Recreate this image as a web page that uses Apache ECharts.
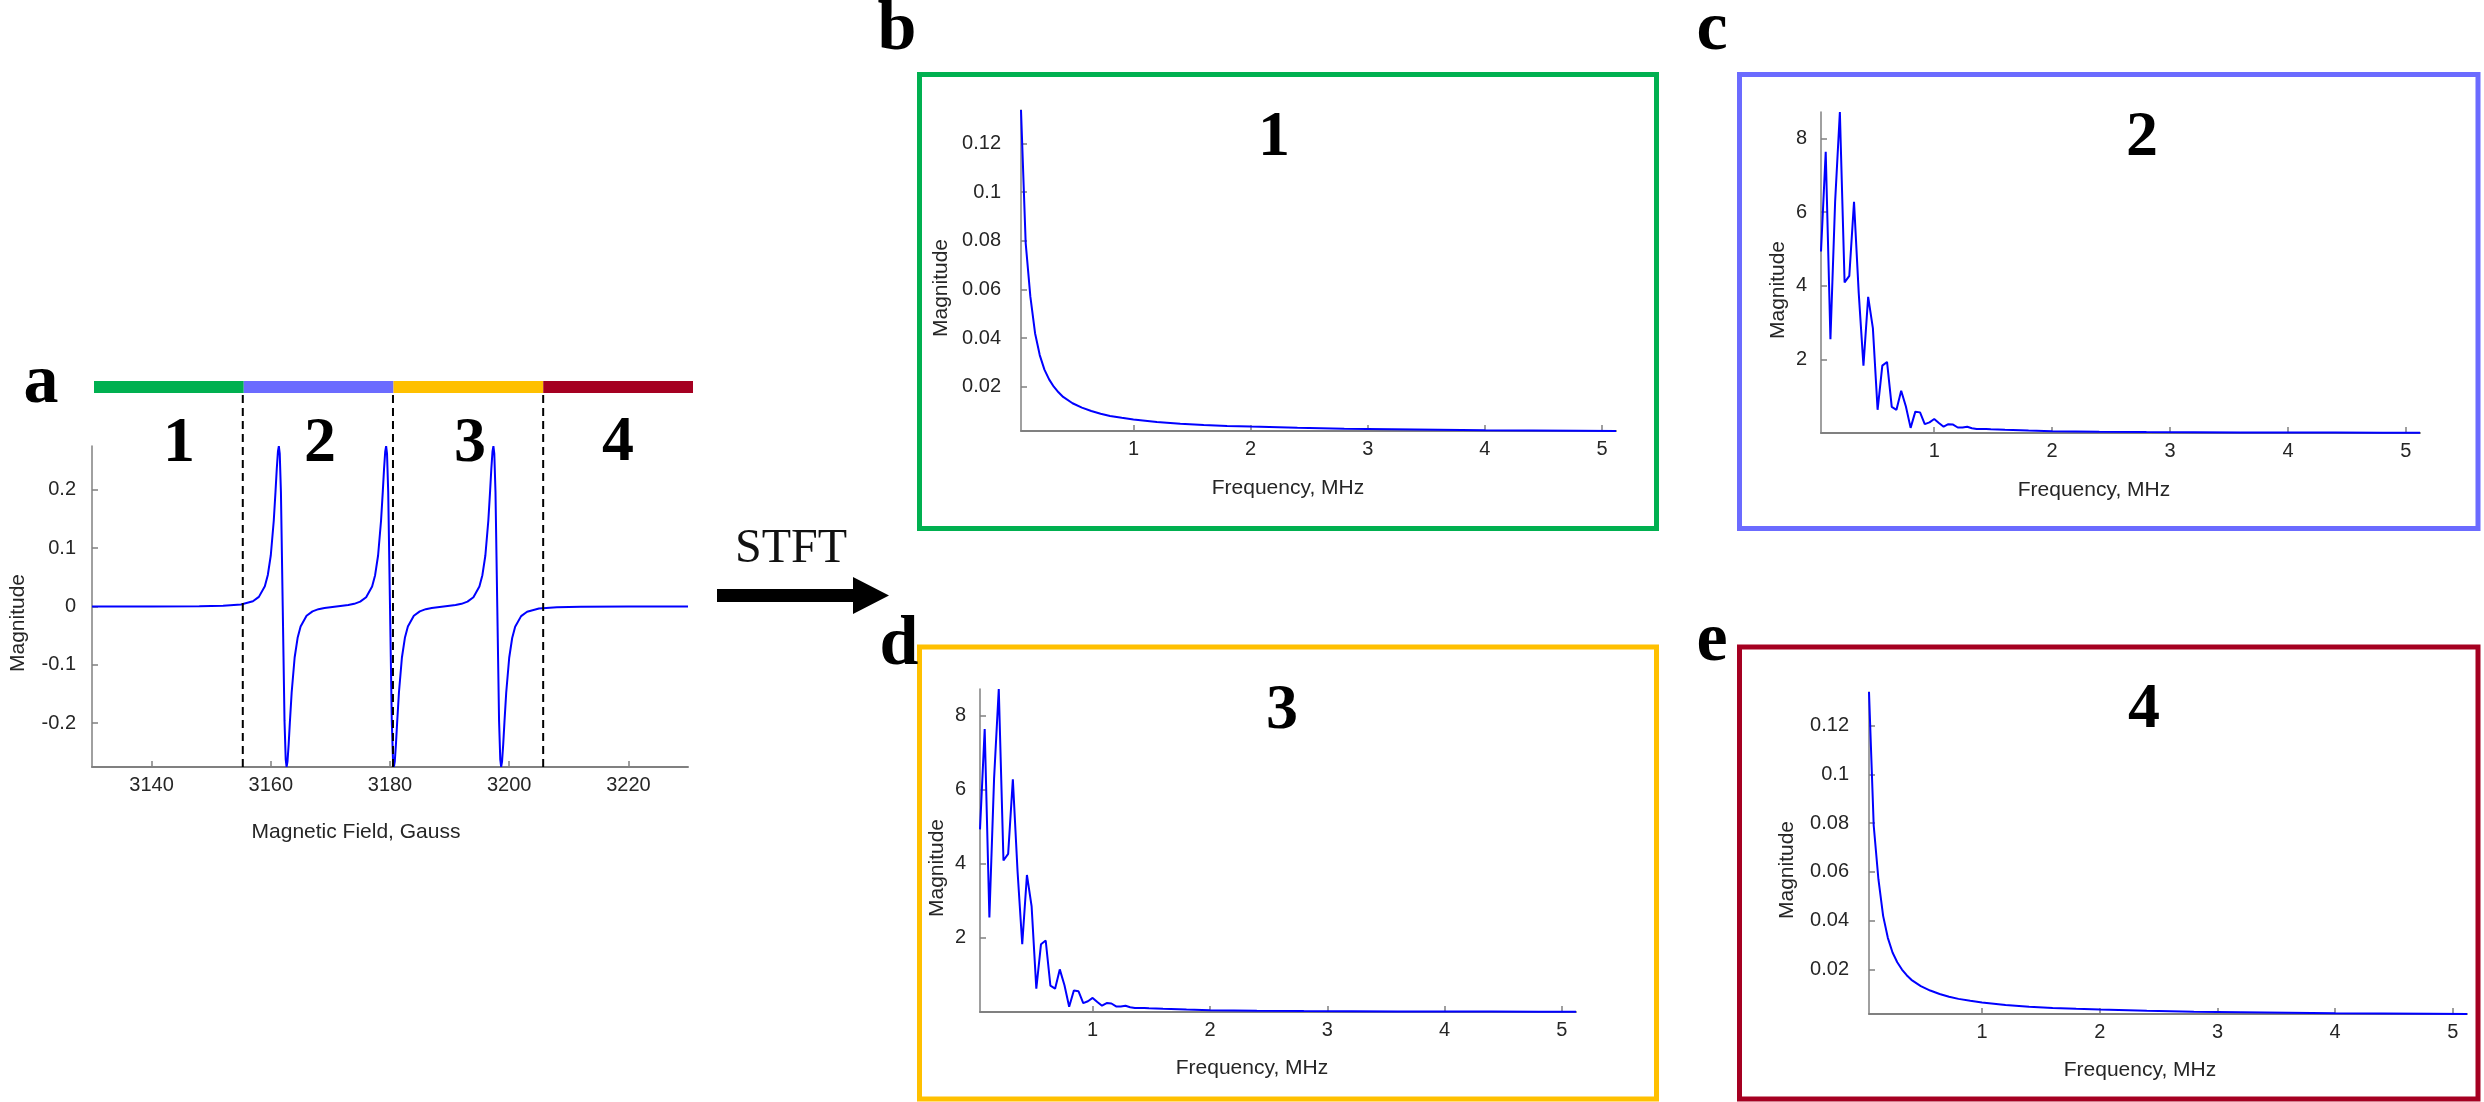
<!DOCTYPE html>
<html>
<head>
<meta charset="utf-8">
<script src="https://cdn.jsdelivr.net/npm/echarts@6/dist/echarts.min.js"></script>
<style>html,body{margin:0;padding:0;background:#fff}#chart{width:2484px;height:1102px}</style>
</head>
<body>
<div id="chart"></div>
<script>
// ---------- Panel a: EPR spectrum ----------
const fieldGauss = [3130,3140,3148,3152,3155,3157,3158,3159,3159.5,3160,3160.5,3160.8,3161,3161.2,3161.35,3161.5,3161.7,3162,3162.3,3162.5,3162.65,3162.8,3163,3163.2,3163.5,3164,3164.5,3165,3166,3167,3168,3169,3171,3173,3174,3175,3176,3177,3177.5,3178,3178.5,3178.8,3179,3179.2,3179.35,3179.5,3179.7,3180,3180.3,3180.5,3180.65,3180.8,3181,3181.2,3181.5,3182,3182.5,3183,3184,3185,3186,3187,3189,3191,3192,3193,3194,3195,3195.5,3196,3196.5,3196.8,3197,3197.2,3197.35,3197.5,3197.7,3198,3198.3,3198.5,3198.65,3198.8,3199,3199.2,3199.5,3200,3200.5,3201,3202,3203,3205,3208,3212,3220,3230];
const eprMagnitude = [0.0001,0.0001,0.0005,0.0013,0.0035,0.0089,0.0165,0.0348,0.054,0.0878,0.1474,0.1985,0.2356,0.2659,0.2749,0.2619,0.196,0.0002,-0.196,-0.2619,-0.2749,-0.2659,-0.2356,-0.1985,-0.1473,-0.0874,-0.0536,-0.0343,-0.0159,-0.0083,-0.0046,-0.0025,0.0001,0.0025,0.0046,0.0083,0.0159,0.0343,0.0536,0.0874,0.1473,0.1985,0.2356,0.2659,0.2749,0.2619,0.196,0,-0.196,-0.2619,-0.2749,-0.2659,-0.2356,-0.1985,-0.1473,-0.0874,-0.0536,-0.0343,-0.0159,-0.0083,-0.0046,-0.0025,0,0.0025,0.0046,0.0083,0.0159,0.0343,0.0536,0.0874,0.1473,0.1985,0.2356,0.2659,0.2749,0.2619,0.196,-0.0002,-0.196,-0.2619,-0.2749,-0.2659,-0.2356,-0.1985,-0.1474,-0.0878,-0.054,-0.0348,-0.0165,-0.0089,-0.0035,-0.0013,-0.0005,-0.0001,-0.0001];
const fieldTicks = [3140,3160,3180,3200,3220];
const eprTicks = [-0.2,-0.1,0,0.1,0.2];
const regionBoundaries = [3155.3,3180.5,3205.7];
const regionNames = ['1','2','3','4'];
const regionWidths = [1,1,1,1];

// ---------- STFT spectra ----------
const freqDecay = [0.04,0.08,0.12,0.16,0.20,0.24,0.28,0.32,0.36,0.40,0.48,0.56,0.64,0.72,0.80,0.90,1.0,1.2,1.4,1.6,1.8,2.0,2.4,2.8,3.2,3.6,4.0,4.4,4.8,5.12];
const magRegion1 = [0.1337,0.079,0.057,0.042,0.033,0.027,0.023,0.020,0.0177,0.0158,0.0132,0.0114,0.0100,0.0089,0.0080,0.0072,0.0065,0.0055,0.0048,0.0043,0.0039,0.0036,0.0031,0.0027,0.0025,0.0023,0.0021,0.0020,0.0019,0.0018];
const magRegion4 = [0.1337,0.079,0.057,0.042,0.033,0.027,0.023,0.020,0.0177,0.0158,0.0132,0.0114,0.0100,0.0089,0.0080,0.0072,0.0065,0.0055,0.0048,0.0043,0.0039,0.0036,0.0031,0.0027,0.0025,0.0023,0.0021,0.0020,0.0019,0.0018];
const freqOsc = [0.04,0.08,0.12,0.16,0.20,0.24,0.28,0.32,0.36,0.40,0.44,0.48,0.52,0.56,0.60,0.64,0.68,0.72,0.76,0.80,0.84,0.88,0.92,0.96,1.00,1.04,1.08,1.12,1.16,1.20,1.24,1.28,1.32,1.36,1.40,1.44,1.48,1.6,1.8,2.0,2.4,2.8,3.2,3.6,4.0,4.4,4.8,5.12];
const magRegion2 = [4.93,7.64,2.55,6.3,8.72,4.09,4.27,6.28,3.8,1.83,3.70,2.85,0.63,1.83,1.93,0.71,0.63,1.15,0.72,0.14,0.58,0.56,0.24,0.29,0.38,0.27,0.17,0.24,0.23,0.15,0.15,0.17,0.13,0.11,0.11,0.11,0.10,0.085,0.065,0.05,0.035,0.025,0.02,0.016,0.013,0.011,0.009,0.008];
const magRegion3 = [4.93,7.64,2.55,6.3,8.72,4.09,4.27,6.28,3.8,1.83,3.70,2.85,0.63,1.83,1.93,0.71,0.63,1.15,0.72,0.14,0.58,0.56,0.24,0.29,0.38,0.27,0.17,0.24,0.23,0.15,0.15,0.17,0.13,0.11,0.11,0.11,0.10,0.085,0.065,0.05,0.035,0.025,0.02,0.016,0.013,0.011,0.009,0.008];
const freqTicks = [1,2,3,4,5];
const smallMagTicks = [0.02,0.04,0.06,0.08,0.1,0.12];
const largeMagTicks = [2,4,6,8];

// ---------- styling ----------
const AX = '#808080', TXT = '#262626', BLUE = '#0000ff';
const SANS = 'Liberation Sans', SERIF = 'Liberation Serif';
const regionColors = ['#00b050','#6b6bff','#ffc000','#a50021'];

function zip(xs, ys){ return xs.map((x,i)=>[x, ys[i]]); }
function valAxis(gi, min, max, ticks, margin, w){
  return {
    type:'value', gridIndex:gi, min:min, max:max,
    axisLine:{show:true, onZero:false, lineStyle:{color:AX, width:w||1.5}},
    axisTick:{show:true, inside:true, length:6, customValues:ticks, lineStyle:{color:AX, width:1.5}},
    axisLabel:{show:true, customValues:ticks, margin:margin, color:TXT, fontFamily:SANS, fontSize:20,
               formatter:function(v){ return String(v); }},
    splitLine:{show:false}
  };
}
function hiddenAxis(gi, type, min, max, data){
  const a = {type:type, gridIndex:gi, show:false, splitLine:{show:false}};
  if (type === 'value'){ a.min = min; a.max = max; } else { a.data = data; }
  return a;
}
function curve(idx, data){
  return {type:'line', xAxisIndex:idx, yAxisIndex:idx, data:data, showSymbol:false, symbol:'none',
          lineStyle:{color:BLUE, width:2}, silent:true, z:3};
}

const grids = [
  {left:92,  top:446, width:596, height:321},   // 0 panel a
  {left:94,  top:381, width:599, height:12},    // 1 colour band
  {left:92,  top:393, width:596, height:374},   // 2 region separators
  {left:1021,top:110, width:595, height:321},   // 3 panel b
  {left:1821,top:112, width:599, height:321},   // 4 panel c
  {left:980, top:689, width:596, height:323},   // 5 panel d
  {left:1869,top:692, width:598, height:322}    // 6 panel e
];

const xAxes = [
  valAxis(0, 3130, 3230, fieldTicks, 8, 2),
  hiddenAxis(1, 'value', 0, 4),
  hiddenAxis(2, 'value', 3130, 3230),
  valAxis(3, 0.04, 5.12, freqTicks, 8, 2),
  valAxis(4, 0.04, 5.12, freqTicks, 8, 2),
  valAxis(5, 0.04, 5.12, freqTicks, 8, 2),
  valAxis(6, 0.04, 5.12, freqTicks, 8, 2)
];
const yAxes = [
  valAxis(0, -0.275, 0.275, eprTicks, 16),
  hiddenAxis(1, 'category', null, null, ['band']),
  hiddenAxis(2, 'value', 0, 1),
  valAxis(3, 0.0018, 0.1337, smallMagTicks, 20),
  valAxis(4, 0, 8.72, largeMagTicks, 14),
  valAxis(5, 0, 8.72, largeMagTicks, 14),
  valAxis(6, 0.0018, 0.1337, smallMagTicks, 20)
];

const series = [
  curve(0, zip(fieldGauss, eprMagnitude)),
  curve(3, zip(freqDecay, magRegion1)),
  curve(4, zip(freqOsc, magRegion2)),
  curve(5, zip(freqOsc, magRegion3)),
  curve(6, zip(freqDecay, magRegion4))
];
regionNames.forEach((name, i) => {
  series.push({type:'bar', name:'region '+name, xAxisIndex:1, yAxisIndex:1, stack:'band',
    data:[regionWidths[i]], barWidth:'100%', itemStyle:{color:regionColors[i]}, silent:true});
});
regionBoundaries.forEach(b => {
  series.push({type:'line', xAxisIndex:2, yAxisIndex:2, data:[[b,0],[b,1]], showSymbol:false, symbol:'none',
    lineStyle:{color:'#000', width:2, type:[8,5]}, silent:true, z:4});
});

// ---------- annotations ----------
function txt(s, x, y, size, opts){
  opts = opts || {};
  return {type:'text', x:x, y:y, rotation:opts.rot||0, z:20, silent:true,
    style:{text:s, fill:opts.color||'#000', font:(opts.weight||'normal')+' '+size+'px "'+(opts.family||SERIF)+'"',
           align:'center', verticalAlign:'middle'}};
}
function box(x, y, w, h, color){
  return {type:'rect', shape:{x:x, y:y, width:w, height:h}, z:1, silent:true,
          style:{fill:'none', stroke:color, lineWidth:5}};
}
const elements = [
  box(919.5, 74.5, 737, 454, regionColors[0]),
  box(1739.5, 74.5, 738.5, 454, regionColors[1]),
  box(919.5, 647, 737, 452, regionColors[2]),
  box(1739.5, 647, 738.5, 452, regionColors[3]),
  {type:'polygon', z:5, silent:true, shape:{points:[[717,589],[853,589],[853,577],[889,595.5],[853,614],[853,602],[717,602]]}, style:{fill:'#000'}},
  txt('STFT', 791, 549, 48, {color:'#111'}),
  // panel letters
  txt('a', 41, 384, 70, {weight:'bold'}),
  txt('b', 897, 31, 70, {weight:'bold'}),
  txt('c', 1712, 31, 70, {weight:'bold'}),
  txt('d', 899, 646, 70, {weight:'bold'}),
  txt('e', 1712, 642, 70, {weight:'bold'}),
  // region digits in panel a
  txt(regionNames[0], 179, 444, 64, {weight:'bold'}),
  txt(regionNames[1], 320, 444, 64, {weight:'bold'}),
  txt(regionNames[2], 470, 444, 64, {weight:'bold'}),
  txt(regionNames[3], 618, 443, 64, {weight:'bold'}),
  // region digits in STFT panels
  txt(regionNames[0], 1274, 138, 64, {weight:'bold'}),
  txt(regionNames[1], 2142, 138, 64, {weight:'bold'}),
  txt(regionNames[2], 1282, 711, 64, {weight:'bold'}),
  txt(regionNames[3], 2144, 710, 64, {weight:'bold'}),
  // axis titles
  txt('Magnitude', 18, 623, 21, {family:SANS, color:TXT, rot:Math.PI/2}),
  txt('Magnetic Field, Gauss', 356, 832, 21, {family:SANS, color:TXT}),
  txt('Magnitude', 941, 288, 21, {family:SANS, color:TXT, rot:Math.PI/2}),
  txt('Frequency, MHz', 1288, 488, 21, {family:SANS, color:TXT}),
  txt('Magnitude', 1778, 290, 21, {family:SANS, color:TXT, rot:Math.PI/2}),
  txt('Frequency, MHz', 2094, 490, 21, {family:SANS, color:TXT}),
  txt('Magnitude', 937, 868, 21, {family:SANS, color:TXT, rot:Math.PI/2}),
  txt('Frequency, MHz', 1252, 1068, 21, {family:SANS, color:TXT}),
  txt('Magnitude', 1787, 870, 21, {family:SANS, color:TXT, rot:Math.PI/2}),
  txt('Frequency, MHz', 2140, 1070, 21, {family:SANS, color:TXT})
];

const chart = echarts.init(document.getElementById('chart'), null, {renderer:'canvas', width:2484, height:1102});
chart.setOption({
  animation:false,
  backgroundColor:'#ffffff',
  grid:grids, xAxis:xAxes, yAxis:yAxes, series:series,
  graphic:{elements:elements}
});
</script>
</body>
</html>
